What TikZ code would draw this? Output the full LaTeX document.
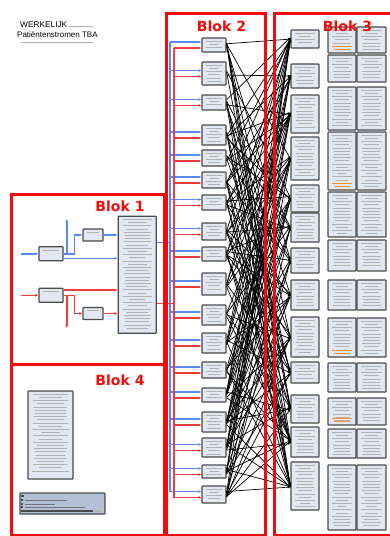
\documentclass[tikz,border=0pt]{standalone}
\usepackage{fontspec}
\setmainfont{Liberation Sans}
\newfontfamily\blokfont{DejaVu Sans}
\usetikzlibrary{arrows.meta,calc}

\definecolor{boxfill}{HTML}{E2E7F2}
\definecolor{boxline}{HTML}{4A4A4A}
\definecolor{flowblue}{HTML}{5A88F5}
\definecolor{flowred}{HTML}{F23B3B}
\definecolor{blokred}{HTML}{F50A0A}
\definecolor{legfill}{HTML}{B4C0D6}

\tikzset{
  box/.style={draw=boxline, fill=boxfill, line width=1.2pt, inner sep=0pt, rounded corners=0.6pt},
  blok/.style={draw=blokred, line width=3pt},
  bloklabel/.style={text=blokred, font=\blokfont\bfseries\fontsize{14}{14}\selectfont},
  bflow/.style={draw=flowblue, line width=1.6pt},
  rflow/.style={draw=flowred, line width=1.6pt},
  tip/.style={-{Latex[length=3pt,width=3pt]}},
  link/.style={draw=black, line width=0.7pt, -{Latex[length=2.5pt,width=2.5pt]}},
  txtline/.style={draw=gray!60, line width=0.6pt},
}

% grey strokes for the unreadable small print in a box
\newcommand\txtfill[4]{%
  \pgfmathtruncatemacro\nlines{(#2-3)/3.2}
  \foreach \k in {1,...,\nlines}{
    \pgfmathsetmacro\tlen{(#3-7)*(0.5+0.45*abs(sin(\k*97)))}
    \draw[txtline,#4] ($(#1.north)+(-\tlen/2,0.5+3.2*\k)$) -- ++(\tlen,0);
  }}

\begin{document}
\begin{tikzpicture}[x=1pt,y=-1pt]
  \useasboundingbox (0,0) rectangle (389,536);
  \fill[white] (0,0) rectangle (389,536);

  % title
  \node[anchor=base west, inner sep=0pt, font=\fontsize{8.3}{9}\selectfont] (titel) at (20,27.7) {WERKELIJK};
  \node[anchor=base west, inner sep=0pt, font=\fontsize{8}{9}\selectfont] (kop) at (17,37.7) {Patiëntenstromen TBA};
  \draw[txtline] ($(titel.base east)+(2,-1)$) -- ++(24,0);
  \draw[txtline] ($(kop.base west)+(4,5)$) -- ++(72,0);

  % blok 1
  \node[box, minimum width=24, minimum height=14] (b1-wij) at (51,253.7) {};
  \node[box, minimum width=20, minimum height=12] (b1-triage) at (93,235) {};
  \node[box, minimum width=38, minimum height=117] (b1-totaal) at (137.2,274.7) {};
  \node[box, minimum width=24, minimum height=14] (b1-ams) at (51,295.3) {};
  \node[box, minimum width=20, minimum height=12] (b1-triage2) at (93,313.5) {};
  \txtfill{b1-wij}{8}{24}{}
  \txtfill{b1-ams}{8}{24}{}
  \txtfill{b1-triage}{9}{20}{}
  \txtfill{b1-triage2}{9}{20}{}
  \txtfill{b1-totaal}{115}{38}{}

  \coordinate (b1-inb) at (20.7,253.7);
  \coordinate (b1-inr) at (20.7,295.3);
  \coordinate (b1-up) at (66.7,219);
  \coordinate (b1-down) at (66.7,328);
  \coordinate (b1-wijout) at ($(b1-wij.east)+(0,4.6)$);
  \coordinate (b1-amsout) at ($(b1-ams.east)+(0,-5.3)$);

  \draw[bflow,tip] (b1-inb) -- (b1-wij);
  \draw[bflow,tip] (b1-wij.east) -| (b1-up);
  \draw[bflow,tip] (b1-wij.east) -- ++(11,0) |- (b1-triage);
  \draw[bflow,tip] (b1-triage) -- (b1-triage -| b1-totaal.west);
  \draw[bflow,tip] (b1-wijout) -- (b1-wijout -| b1-totaal.west);

  \draw[rflow,tip] (b1-inr) -- (b1-ams);
  \draw[rflow,tip] (b1-amsout) -- (b1-amsout -| b1-totaal.west);
  \draw[rflow,tip] (b1-ams.east) -| (b1-down);
  \draw[rflow,tip] (b1-ams.east) -- ++(11,0) |- (b1-triage2);
  \draw[rflow,tip] (b1-triage2) -- (b1-triage2 -| b1-totaal.west);

  % blok 2
  \foreach \i/\y/\h in {1/45/14, 2/73.5/23, 3/102.5/15, 4/135/20, 5/158/16, 6/180/16,
      7/202.5/15, 8/231.5/17, 9/254/14, 10/284/22, 11/315/20, 12/343/20, 13/370/16,
      14/395/14, 15/422/20, 16/447.5/19, 17/471.5/13, 18/494.5/17}{
    \node[box, minimum width=24, minimum height=\h] (b2-\i) at (214,\y) {};
    \txtfill{b2-\i}{\h}{24}{}
    \coordinate (busb-\i) at (170,\y-3);
    \coordinate (busr-\i) at (174,\y+3);
    \draw[bflow,line width=1.3pt,tip] (busb-\i) -- (busb-\i -| b2-\i.west);
    \draw[rflow,line width=1.3pt,tip] (busr-\i) -- (busr-\i -| b2-\i.west);
  }
  \draw[bflow,line width=1.3pt] (busb-1) -- (busb-18);
  \draw[rflow,line width=1.3pt] (busr-1) -- (busr-18);

  \coordinate (b1-outb) at ($(b1-totaal.north east)+(0,27)$);
  \coordinate (b1-outr) at ($(b1-totaal.north east)+(0,88)$);
  \draw[bflow] (b1-outb) -- (b1-outb -| busb-1);
  \draw[rflow] (b1-outr) -- (b1-outr -| busr-1);

  % blok 3
  \foreach \j/\y/\h in {1/39/18, 2/76/24, 3/114/38, 4/158.5/43, 5/198.5/27, 6/227.5/29,
      7/260.5/25, 8/295/30, 9/337/40, 10/372.5/21, 11/409/28, 12/442/30, 13/486/48}{
    \node[box, minimum width=28, minimum height=\h] (b3-\j) at (305,\y) {};
    \txtfill{b3-\j}{\h}{28}{}
  }
  \foreach \r/\y/\h/\o in {1/40/26/1, 2/68.5/27/0, 3/108.5/43/0, 4/161/58/1, 5/214.5/45/0,
      6/255.5/31/0, 7/295/30/0, 8/337.5/39/1, 9/377.5/29/0, 10/411.5/27/1, 11/443.5/29/0,
      12/497.5/65/0}{
    \node[box, minimum width=28, minimum height=\h] (b3m-\r) at (342,\y) {};
    \node[box, minimum width=29, minimum height=\h] (b3r-\r) at (371.5,\y) {};
    \txtfill{b3m-\r}{\h}{28}{}
    \txtfill{b3r-\r}{\h}{29}{}
    \ifnum\o=1
      \draw[txtline,draw=orange!85] ($(b3m-\r.south)+(-8,-4)$) -- ++(16,0);
      \draw[txtline,draw=orange!85] ($(b3m-\r.south)+(-10,-7)$) -- ++(20,0);
    \fi
  }

  % links
  \pgfmathsetseed{12}
  \foreach \i in {1,...,18}{
    \foreach \j in {1,...,13}{
      \pgfmathtruncatemacro\hit{rnd<0.62}
      \ifnum\hit=1
        \draw[link] ($(b2-\i.east)+(0,{3*rand})$) -- ($(b3-\j.west)+(0,{2*rand})$);
      \fi
    }}

  % blok 4
  \node[box, minimum width=45, minimum height=88] (b4-tekst) at (50.5,435) {};
  \txtfill{b4-tekst}{86}{45}{}
  \node[box, fill=legfill, minimum width=85, minimum height=21] (b4-legenda) at (62.5,503.5) {};
  \begin{scope}[shift={(b4-legenda.north west)}]
    \fill[boxline] (2,2.5) rectangle (5,4.5);
    \foreach \ly/\ll in {8/42, 11.5/30, 15/60}{
      \fill[boxline] (2,\ly-1) rectangle (4,\ly+1);
      \draw[txtline,draw=gray!90!black] (6,\ly) -- ++(\ll,0);
    }
    \fill[boxline] (2,18) rectangle (74,19.5);
    \fill[gray!60] (76,17.5) rectangle (82,19.5);
  \end{scope}

  % frames
  \draw[blok] (11.5,194.5) rectangle (164,364.5);
  \draw[blok] (11.5,364.5) rectangle (164,535);
  \draw[blok] (166.5,13.5) rectangle (265,535);
  \draw[blok] (274.5,13) rectangle (393,535);

  % labels
  \node[bloklabel] (lab1) at (120,206.5) {Blok 1};
  \node[bloklabel] (lab2) at (221.5,26) {Blok 2};
  \node[bloklabel] (lab3) at (347.5,26.5) {Blok 3};
  \node[bloklabel] (lab4) at (120,380) {Blok 4};
\end{tikzpicture}
\end{document}
